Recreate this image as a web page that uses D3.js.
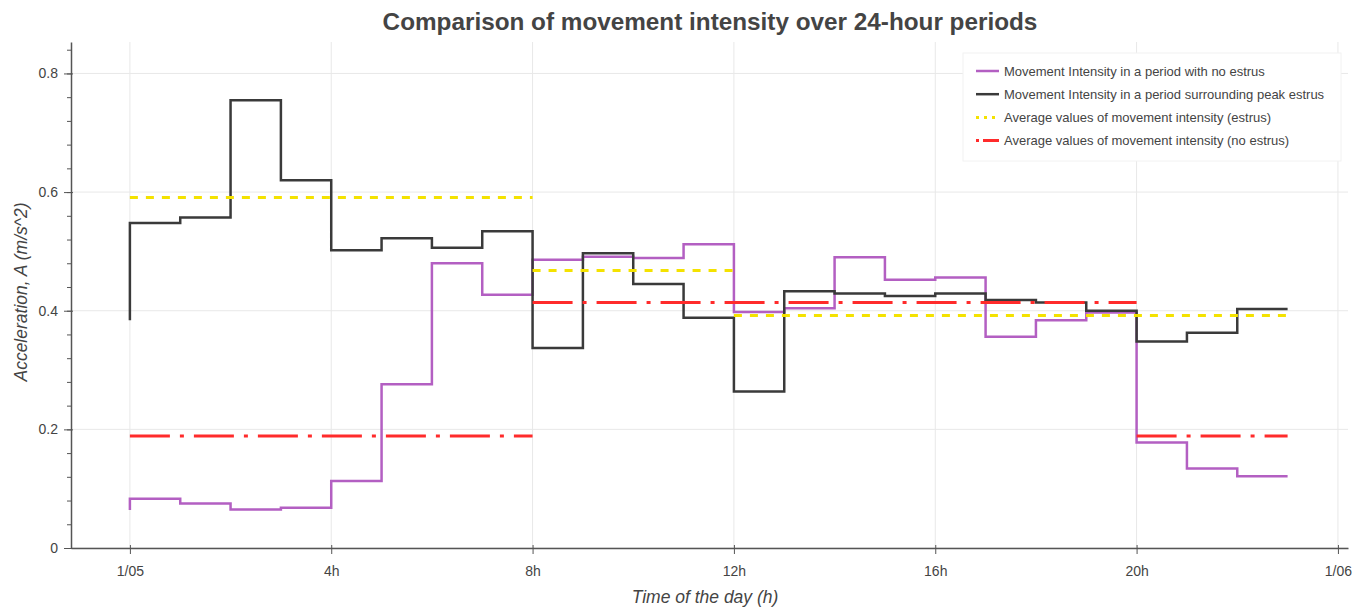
<!DOCTYPE html>
<meta charset="utf-8">
<head>
  <title>Movement intensity</title>
</head>
<style>
body { margin: 0; background: #fff; }
svg { font-family: "Liberation Sans", Arial, sans-serif; }
.grid line { stroke: #e8e8e8; stroke-width: 1px; }
.axis path, .axis line { stroke: #555; }
.axis text { fill: #444; font-size: 14px; }
.step { fill: none; stroke-width: 2.5px; }
.avg { fill: none; stroke-width: 3px; }
.legend text { fill: #444; font-size: 13px; }
</style>
<body>
<svg width="1368" height="607"></svg>
<script src="https://cdnjs.cloudflare.com/ajax/libs/d3/7.8.5/d3.min.js"></script>
<script>
// hourly readings (step drawn before each point)
var hours = [0, 1, 2, 3, 4, 5, 6, 7, 8, 9, 10, 11, 12, 13, 14, 15, 16, 17, 18, 19, 20, 21, 22, 23];
var noEstrus = [0.064, 0.083, 0.075, 0.065, 0.068, 0.113, 0.276, 0.480, 0.427, 0.486, 0.491, 0.489,
                0.512, 0.398, 0.404, 0.490, 0.452, 0.456, 0.356, 0.384, 0.397, 0.178, 0.134, 0.121];
var peakEstrus = [0.384, 0.548, 0.557, 0.755, 0.620, 0.502, 0.522, 0.506, 0.534, 0.337, 0.497, 0.445,
                  0.388, 0.264, 0.433, 0.429, 0.425, 0.429, 0.418, 0.414, 0.400, 0.348, 0.363, 0.403];

// average segments: [start hour, end hour, value]
var avgEstrus = [[0, 8, 0.591], [8, 12, 0.468], [12, 23, 0.392]];
var avgNoEstrus = [[0, 8, 0.189], [8, 20, 0.414], [20, 23, 0.189]];

var xTicks = [0, 4, 8, 12, 16, 20, 24];
var xTickLabels = ["1/05", "4h", "8h", "12h", "16h", "20h", "1/06"];
var yTicks = [0, 0.2, 0.4, 0.6, 0.8];

var legendLabels = [
  "Movement Intensity in a period with no estrus",
  "Movement Intensity in a period surrounding peak estrus",
  "Average values of movement intensity (estrus)",
  "Average values of movement intensity (no estrus)"
];

var colors = { purple: "#b35fc2", black: "#3a3a3a", yellow: "#f4e200", red: "#ff2b2b" };

var svg = d3.select("svg");

var x = d3.scaleLinear().domain([-1.17, 24.2]).range([71, 1348]);
var y = d3.scaleLinear().domain([0, 0.853]).range([548, 42]);

// grid
var grid = svg.append("g").attr("class", "grid");
grid.selectAll("line.v").data(xTicks).enter().append("line")
  .attr("x1", function(d) { return x(d); }).attr("x2", function(d) { return x(d); })
  .attr("y1", y.range()[0]).attr("y2", y.range()[1]);
grid.selectAll("line.h").data(yTicks).enter().append("line")
  .attr("y1", function(d) { return y(d); }).attr("y2", function(d) { return y(d); })
  .attr("x1", x.range()[0]).attr("x2", x.range()[1]);

// axes
var xAxis = d3.axisBottom(x).tickValues(xTicks).tickSizeInner(6).tickSizeOuter(0).tickPadding(12)
  .tickFormat(function(d, i) { return xTickLabels[i]; });
var gx = svg.append("g").attr("class", "axis").attr("transform", "translate(0," + y(0) + ")").call(xAxis);
gx.selectAll(".tick line").attr("y1", -3);
gx.select(".domain").attr("stroke-width", 1.5);

var minorY = d3.range(0, 0.853, 0.04);
svg.append("g").attr("class", "axis").attr("transform", "translate(" + x.range()[0] + ",0)")
  .call(d3.axisLeft(y).tickValues(minorY).tickSize(4).tickFormat(""))
  .select(".domain").remove();
var gy = svg.append("g").attr("class", "axis").attr("transform", "translate(" + x.range()[0] + ",0)")
  .call(d3.axisLeft(y).tickValues(yTicks).tickSizeInner(7).tickSizeOuter(0).tickPadding(6)
    .tickFormat(function(d) { return d === 0 ? "0" : d3.format(".1f")(d); }));
gy.selectAll(".tick line").attr("x1", 2);
gy.select(".domain").attr("stroke-width", 1.5);

// average lines
function avgLines(data, color, dash, cls) {
  svg.append("g").selectAll("line." + cls).data(data).enter().append("line")
    .attr("class", "avg " + cls)
    .attr("x1", function(d) { return x(d[0]); }).attr("x2", function(d) { return x(d[1]); })
    .attr("y1", function(d) { return y(d[2]); }).attr("y2", function(d) { return y(d[2]); })
    .attr("stroke", color).attr("stroke-dasharray", dash);
}

// step lines
var line = d3.line().curve(d3.curveStepBefore)
  .x(function(d) { return x(d[0]); })
  .y(function(d) { return y(d[1]); });

svg.append("path").attr("class", "step")
  .datum(d3.zip(hours, noEstrus))
  .attr("d", line).attr("stroke", colors.purple);
svg.append("path").attr("class", "step")
  .datum(d3.zip(hours, peakEstrus))
  .attr("d", line).attr("stroke", colors.black);

avgLines(avgEstrus, colors.yellow, "8,8", "yel");
avgLines(avgNoEstrus, colors.red, "40,10,4,10", "red");

// title and labels
svg.append("text").attr("x", 710).attr("y", 30).attr("text-anchor", "middle")
  .attr("font-size", "24.3px").attr("font-weight", "bold").attr("fill", "#444")
  .text("Comparison of movement intensity over 24-hour periods");
svg.append("text").attr("x", 705).attr("y", 603).attr("text-anchor", "middle")
  .attr("font-size", "17.5px").attr("font-style", "italic").attr("fill", "#444")
  .text("Time of the day (h)");
svg.append("text").attr("transform", "translate(27,292) rotate(-90)").attr("text-anchor", "middle")
  .attr("font-size", "17.5px").attr("font-style", "italic").attr("fill", "#444")
  .text("Acceleration, A (m/s^2)");

// legend
var legend = svg.append("g").attr("class", "legend");
legend.append("rect").attr("x", 963).attr("y", 53).attr("width", 378).attr("height", 108)
  .attr("fill", "#fff").attr("stroke", "#f2f2f2");
var glyphs = [
  { color: colors.purple, dash: null, w: 2.5 },
  { color: colors.black, dash: null, w: 2.5 },
  { color: colors.yellow, dash: "3,5", w: 3 },
  { color: colors.red, dash: "3,4,40", w: 3 }
];
var item = legend.selectAll("g.item").data(legendLabels).enter().append("g")
  .attr("transform", function(d, i) { return "translate(976," + (71 + i * 23.2) + ")"; });
item.append("line").attr("x1", 0).attr("x2", 23)
  .attr("stroke", function(d, i) { return glyphs[i].color; })
  .attr("stroke-width", function(d, i) { return glyphs[i].w; })
  .attr("stroke-dasharray", function(d, i) { return glyphs[i].dash; });
item.append("text").attr("x", 28).attr("dy", "0.35em").text(function(d) { return d; });
</script>
</body>
</html>
